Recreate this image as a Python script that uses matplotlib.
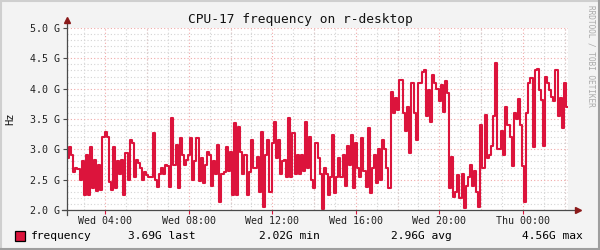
import numpy as np
import matplotlib
matplotlib.use("Agg")
import matplotlib.pyplot as plt
import matplotlib.dates as mdates
from matplotlib.ticker import MultipleLocator, FuncFormatter
from matplotlib.patches import Rectangle
from matplotlib.lines import Line2D


# DATA (GHz, one sample every 6 minutes, Wed 02:10 -> Thu 02:10)

start_time = np.datetime64("2024-01-03T02:10")
step_minutes = 6

block_1 = [2.85, 3.04, 2.90, 2.62, 2.70, 2.68, 2.50, 2.80, 2.25, 2.90,
           2.25, 3.04, 2.36, 2.82, 2.32, 2.75, 2.33, 3.20, 3.28, 3.20,
           2.46, 2.33, 3.04, 2.37, 2.80, 2.60, 2.82, 2.25, 2.94, 2.50,
           3.15, 3.10, 2.55, 2.82, 2.78, 2.70, 2.50, 2.62, 2.58, 2.55]
block_2 = [2.55, 3.27, 2.50, 2.38, 2.60, 2.70, 2.60, 2.75, 2.72, 2.38,
           3.52, 2.75, 3.07, 2.36, 3.19, 2.90, 2.75, 2.82, 2.90, 3.19,
           2.50, 2.80, 3.19, 2.48, 2.86, 2.45, 2.75, 2.96, 2.90, 2.40,
           2.80, 2.60, 3.07, 2.13, 2.60, 2.62, 3.04, 2.65, 2.95, 2.25]
block_3 = [3.43, 2.25, 3.37, 2.95, 2.60, 2.90, 2.25, 2.63, 3.15, 2.70,
           2.70, 2.88, 2.30, 3.29, 2.05, 2.90, 3.15, 2.30, 3.10, 3.45,
           2.85, 3.15, 2.60, 2.80, 2.82, 2.55, 3.52, 2.55, 3.27, 2.60,
           2.90, 2.60, 2.90, 2.65, 3.45, 2.70, 3.20, 2.50, 2.36, 3.10]
block_4 = [2.85, 2.60, 2.02, 2.70, 2.60, 2.25, 2.55, 3.24, 2.28, 2.55,
           2.85, 2.55, 2.90, 2.40, 3.05, 2.75, 3.24, 2.36, 3.10, 2.70,
           2.55, 3.19, 2.65, 2.38, 3.35, 2.28, 2.70, 2.90, 2.45, 3.00,
           2.50, 3.15, 3.00, 2.70, 2.36, 3.95, 3.60, 3.85, 3.65, 4.14]
block_5 = [4.14, 3.60, 3.30, 3.70, 2.94, 4.09, 3.60, 3.15, 4.09, 4.10,
           4.28, 4.30, 3.55, 3.97, 3.45, 4.22, 4.10, 4.00, 3.80, 4.06,
           3.62, 4.12, 3.93, 2.36, 2.87, 2.22, 2.30, 2.58, 2.20, 2.60,
           2.03, 2.40, 2.55, 2.74, 2.40, 2.65, 2.30, 2.05, 3.40, 2.70]
block_6 = [3.57, 2.86, 2.90, 3.05, 3.55, 4.42, 3.00, 3.00, 3.30, 2.90,
           3.70, 3.40, 3.20, 2.73, 3.60, 3.50, 3.83, 3.40, 2.73, 2.13,
           3.60, 4.10, 4.17, 3.04, 4.30, 4.33, 3.97, 3.82, 3.05, 4.20,
           4.10, 3.97, 3.87, 3.80, 4.30, 3.55, 3.85, 3.35, 4.10, 3.69]

freq_ghz = np.array(block_1 + block_2 + block_3 + block_4 + block_5 + block_6)

legend_label = "frequency"
legend_stats = ["3.69G last", "2.02G min", "2.96G avg", "4.56G max"]

title = "CPU-17 frequency on r-desktop"
y_label = "Hz"
watermark = "RRDTOOL / TOBI OETIKER"


# TIME AXIS

times = start_time + np.arange(len(freq_ghz) + 1) * np.timedelta64(step_minutes, "m")
times = times.astype("datetime64[ms]").astype(object)
values = np.append(freq_ghz, freq_ghz[-1])


# STYLE

LINE_COLOR = "#DC143C"
BACK = "#F3F3F3"
MONO = "DejaVu Sans Mono"
MAJOR_GRID = "#F2A8A8"
MINOR_GRID = "#D4D4D4"
AXIS_COLOR = "#4A4A4A"
ARROW_COLOR = "#8B1A1A"

plt.rcParams["font.family"] = MONO

fig = plt.figure(figsize=(6, 2.5), dpi=100, facecolor=BACK)
ax = fig.add_axes([67 / 600, 1 - 210 / 250, 501 / 600, 182 / 250])
ax.set_facecolor("white")

ax.step(times, values, where="post", color=LINE_COLOR, linewidth=1.5, zorder=3)

ax.set_xlim(times[0], times[-1])
ax.set_ylim(2.0, 5.0)

# y grid
ax.yaxis.set_major_locator(MultipleLocator(0.5))
ax.yaxis.set_minor_locator(MultipleLocator(0.1))
ax.yaxis.set_major_formatter(FuncFormatter(lambda v, p: f"{v:.1f} G"))

# x ticks every 4 h, grid every 1 h (grey) and 2 h (red)
ax.xaxis.set_major_locator(mdates.HourLocator(byhour=range(0, 24, 4)))
ax.xaxis.set_minor_locator(mdates.HourLocator())
ax.xaxis.set_major_formatter(mdates.DateFormatter("%a %H:%M"))

grid_dash = (0, (1, 2))
ax.grid(which="minor", color=MINOR_GRID, linestyle=grid_dash, linewidth=0.8, zorder=0)
ax.grid(which="major", axis="y", color=MAJOR_GRID, linestyle=grid_dash, linewidth=0.8, zorder=1)
two_hour = mdates.HourLocator(byhour=range(0, 24, 2))
for t in two_hour.tick_values(times[0], times[-1]):
    ax.axvline(t, color=MAJOR_GRID, linestyle=grid_dash, linewidth=0.8, zorder=1)

ax.tick_params(axis="y", which="major", length=3, width=0.8, color=AXIS_COLOR,
               labelsize=7.2, pad=2, labelcolor="#222222")
ax.tick_params(axis="x", which="major", length=3, width=0.8, color=LINE_COLOR,
               labelsize=7.2, pad=1.5, labelcolor="#222222")
ax.tick_params(which="minor", length=0)

for s in ax.spines.values():
    s.set_visible(False)

# axis lines with arrow heads
ax.add_line(Line2D([-0.01, 1.015], [0, 0], transform=ax.transAxes,
                   color=AXIS_COLOR, linewidth=0.9, clip_on=False, zorder=4))
ax.add_line(Line2D([0, 0], [-0.027, 1.04], transform=ax.transAxes,
                   color=AXIS_COLOR, linewidth=0.9, clip_on=False, zorder=4))
ax.plot([1.02], [0], marker=">", markersize=4.5, color=ARROW_COLOR,
        transform=ax.transAxes, clip_on=False, zorder=5)
ax.plot([0], [1.045], marker="^", markersize=4.5, color=ARROW_COLOR,
        transform=ax.transAxes, clip_on=False, zorder=5)

# texts
fig.text(0.5, 1 - 19 / 250, title, ha="center", va="center", fontsize=9.3, color="#111111")
fig.text(10 / 600, 1 - 119 / 250, y_label, ha="center", va="center",
         rotation=90, fontsize=7.5, color="#111111")
fig.text(591 / 600, 1 - 5 / 250, watermark, ha="center", va="top",
         rotation=270, fontsize=5.6, color="#AAAAAA")

# legend row
fig.patches.append(Rectangle((15 / 600, 1 - 241 / 250), 10 / 600, 10 / 250,
                             transform=fig.transFigure, facecolor=LINE_COLOR,
                             edgecolor="black", linewidth=0.9))
row_y = 1 - 236 / 250
fig.text(31 / 600, row_y, legend_label, ha="left", va="center", fontsize=8.1)
stat_right = [195, 320, 452, 583]
for txt, xr in zip(legend_stats, stat_right):
    fig.text(xr / 600, row_y, txt, ha="right", va="center", fontsize=8.1)

# 3D style frame
fig.add_artist(Line2D([0, 1], [0.998, 0.998], transform=fig.transFigure, color="#CFCFCF", linewidth=1.5))
fig.add_artist(Line2D([0.001, 0.001], [0, 1], transform=fig.transFigure, color="#CFCFCF", linewidth=1.5))
fig.add_artist(Line2D([0, 1], [0.003, 0.003], transform=fig.transFigure, color="#9E9E9E", linewidth=1.5))
fig.add_artist(Line2D([0.998, 0.998], [0, 1], transform=fig.transFigure, color="#9E9E9E", linewidth=1.5))

fig.savefig("out.png", dpi=100, facecolor=BACK)
plt.close(fig)
